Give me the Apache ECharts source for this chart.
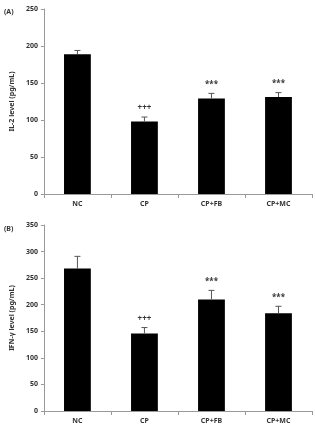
<!DOCTYPE html>
<html>
<head>
<meta charset="utf-8">
<script src="https://cdn.jsdelivr.net/npm/echarts@6/dist/echarts.min.js"></script>
<style>
  html, body { margin: 0; padding: 0; background: #fff; }
  #chart { width: 315px; height: 428px; }
</style>
</head>
<body>
<div id="chart"></div>
<script>
const categories = ["NC", "CP", "CP+FB", "CP+MC"];

// panel A: IL-2
const il2Values = [189, 98, 129, 131];
const il2Errors = [5, 6, 7, 6];
const il2Marks = ["", "+++", "***", "***"];

// panel B: IFN-γ
const ifnValues = [268, 146, 210, 184];
const ifnErrors = [23, 11, 17, 13];
const ifnMarks = ["", "+++", "***", "***"];

const textColor = "#333";
const axisColor = "#999";
const font = "Noto Sans";

const chart = echarts.init(document.getElementById("chart"));

const makeYAxis = (gridIndex, max, interval, name) => ({
  type: "value",
  gridIndex,
  min: 0,
  max,
  interval,
  name,
  nameLocation: "middle",
  nameGap: 25,
  nameTextStyle: { fontSize: 7, fontWeight: "bold", color: textColor, fontFamily: font },
  axisLine: { show: true, lineStyle: { color: axisColor, width: 1 } },
  axisTick: { show: true, length: 3, lineStyle: { color: axisColor } },
  axisLabel: { fontSize: 7, fontWeight: "bold", color: textColor, fontFamily: font, margin: 6 },
  splitLine: { show: false },
});

const makeXAxis = (gridIndex) => ({
  type: "category",
  gridIndex,
  data: categories,
  axisLine: { lineStyle: { color: axisColor, width: 1 } },
  axisTick: { show: true, length: 4, lineStyle: { color: axisColor } },
  axisLabel: { fontSize: 7, fontWeight: "bold", color: textColor, fontFamily: font, margin: 6 },
});

// error bar (upper half only) with significance mark on top
const errorSeries = (idx, values, errors, marks) => ({
  type: "custom",
  xAxisIndex: idx,
  yAxisIndex: idx,
  data: values.map((v, i) => [i, v, errors[i]]),
  z: 3,
  renderItem: (params, api) => {
    const i = api.value(0);
    const v = api.value(1);
    const e = api.value(2);
    const base = api.coord([i, v]);
    const top = api.coord([i, v + e]);
    const half = 3;
    const children = [
      {
        type: "line",
        shape: { x1: top[0], y1: base[1], x2: top[0], y2: top[1] },
        style: { stroke: "#555", lineWidth: 1 },
      },
      {
        type: "line",
        shape: { x1: top[0] - half, y1: top[1], x2: top[0] + half, y2: top[1] },
        style: { stroke: "#555", lineWidth: 1 },
      },
    ];
    if (marks[params.dataIndex]) {
      children.push({
        type: "text",
        style: {
          x: top[0],
          y: top[1] - 9,
          text: marks[params.dataIndex],
          align: "center",
          verticalAlign: "middle",
          fontSize: 8,
          fontWeight: "bold",
          fontFamily: font,
          fill: textColor,
        },
      });
    }
    return { type: "group", children };
  },
});

const barSeries = (idx, values) => ({
  type: "bar",
  xAxisIndex: idx,
  yAxisIndex: idx,
  data: values,
  barWidth: "40%",
  itemStyle: { color: "#000" },
  z: 2,
});

const option = {
  animation: false,
  grid: [
    { left: 35, right: 3, top: 9, height: 185 },
    { left: 35, right: 3, top: 225, height: 186 },
  ],
  xAxis: [makeXAxis(0), makeXAxis(1)],
  yAxis: [
    makeYAxis(0, 250, 50, "IL-2 level (pg/mL)"),
    makeYAxis(1, 350, 50, "IFN-γ level (pg/mL)"),
  ],
  graphic: [
    {
      type: "text",
      left: 4,
      top: 8,
      style: { text: "(A)", fontSize: 7, fontWeight: "bold", fontFamily: font, fill: textColor },
    },
    {
      type: "text",
      left: 4,
      top: 225,
      style: { text: "(B)", fontSize: 7, fontWeight: "bold", fontFamily: font, fill: textColor },
    },
  ],
  series: [
    barSeries(0, il2Values),
    errorSeries(0, il2Values, il2Errors, il2Marks),
    barSeries(1, ifnValues),
    errorSeries(1, ifnValues, ifnErrors, ifnMarks),
  ],
};

chart.setOption(option);
</script>
</body>
</html>
